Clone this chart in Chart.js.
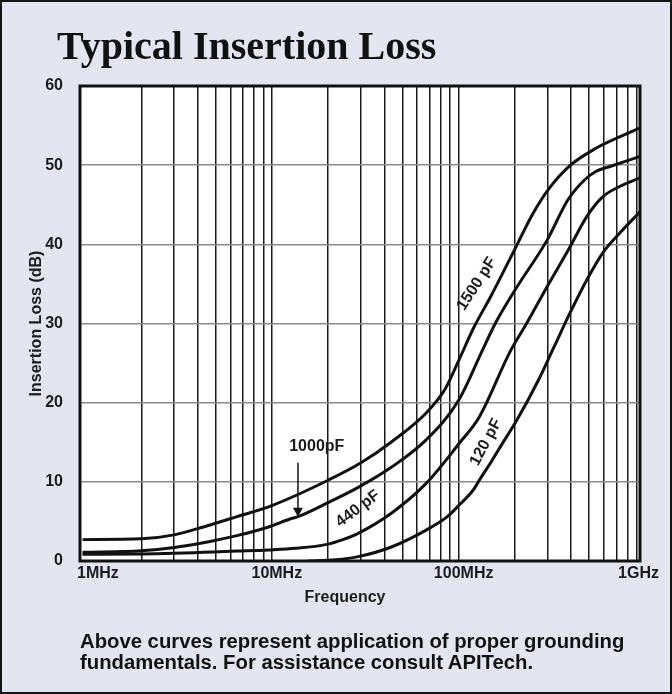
<!DOCTYPE html>
<html>
<head>
<meta charset="utf-8">
<script src="https://cdn.jsdelivr.net/npm/chart.js@4.4.1/dist/chart.umd.min.js"></script>
<style>
  html, body { margin: 0; padding: 0; background: #e3e6f1; }
  #wrap { position: relative; width: 672px; height: 694px; overflow: hidden; }
  #c { position: absolute; left: 0; top: 0; }
  #title { position: absolute; left: 57px; top: 26px; font: bold 40px/40px "Liberation Serif", "Times New Roman", serif; color: #111; white-space: nowrap; }
  #note { position: absolute; left: 80px; top: 631px; font: bold 20.3px/21px "Liberation Sans", Arial, sans-serif; color: #111; white-space: nowrap; }
</style>
</head>
<body>
<div id="wrap">
  <canvas id="c" width="672" height="694"></canvas>
  <div id="title">Typical Insertion Loss</div>
  <div id="note">Above curves represent application of proper grounding<br>fundamentals. For assistance consult APITech.</div>
</div>
<script>
// ---- data (frequency in MHz, insertion loss in dB) ----
const f1500 = [0.97, 2, 3, 4.3, 6.5, 10, 20, 30, 44, 67, 85, 100, 120, 150, 200, 250, 306, 397, 540, 700, 935];
const db1500 = [2.7, 2.8, 3.3, 4.3, 5.6, 7.0, 10.2, 12.4, 15.1, 18.7, 21.8, 25.3, 29.4, 33.6, 39.4, 43.9, 47.1, 50.0, 52.1, 53.4, 54.7];

const f1000 = [0.97, 2, 3, 4.3, 6.5, 9.6, 12.5, 13.8, 19.7, 29, 44, 67, 100, 134, 157, 200, 297, 384, 470, 542, 640, 935];
const db1000 = [1.1, 1.3, 1.7, 2.3, 3.2, 4.3, 5.3, 5.6, 7.3, 9.3, 11.9, 15.3, 20.3, 26.6, 30.0, 34.2, 40.5, 45.6, 48.1, 49.2, 49.8, 51.1];

const f440 = [0.97, 2, 3, 4.3, 6.5, 9.6, 13.4, 19.7, 24, 29, 44, 67, 101, 129, 190, 231, 300, 395, 485, 590, 727, 935];
const db440 = [0.85, 0.88, 0.97, 1.1, 1.25, 1.4, 1.6, 2.1, 2.7, 3.5, 6.1, 9.8, 14.9, 18.2, 26.6, 30.0, 34.8, 39.7, 43.5, 46.0, 47.3, 48.4];

const f120 = [15.6, 22, 29, 44, 67, 87, 101, 120, 129, 150, 170, 205, 268, 325, 394, 485, 590, 727, 935];
const db120 = [0, 0.15, 0.55, 1.8, 3.9, 5.6, 7.1, 9.0, 10.2, 12.6, 14.7, 17.8, 22.9, 27.1, 31.3, 35.5, 38.9, 41.4, 44.1];

const gridFreqs = [2,3,4,5,6,7,8,9,10,20,30,40,50,60,70,80,90,100,200,300,400,500,600,700,800,900];
const xTickValues = [1, 10, 100, 1000];
const xTickLabels = ['1MHz', '10MHz', '100MHz', '1GHz'];
const xTitle = 'Frequency';
const yTitle = 'Insertion Loss (dB)';

// curve annotations (anchored in data coordinates)
const notes = [
  { text: '1000pF', f: 17.4, db: 14.5, angle: 0 },
  { text: '440 pF', f: 28.9, db: 6.6, angle: -37 },
  { text: '1500 pF', f: 125, db: 35.0, angle: -57 },
  { text: '120 pF', f: 140, db: 15.0, angle: -62 }
];
const arrow = { f: 13.8, fromDb: 12.4, toDb: 5.6 };

// ---- chart ----
const FONT = '"Liberation Sans", Arial, Helvetica, sans-serif';
Chart.defaults.font.family = FONT;
const ink = '#1c1c1c';

const mk = (fs, ds) => fs.map((f, i) => ({ x: f, y: ds[i] }));
const line = (label, fs, ds) => ({
  label, data: mk(fs, ds), borderColor: '#111', borderWidth: 3,
  pointRadius: 0, fill: false, cubicInterpolationMode: 'monotone'
});

const decor = {
  id: 'decor',
  beforeDraw(chart) {
    const { ctx, chartArea: a, width, height } = chart;
    ctx.save();
    ctx.fillStyle = '#e3e6f1';
    ctx.fillRect(0, 0, width, height);
    ctx.fillStyle = '#ffffff';
    ctx.fillRect(a.left, a.top, a.right - a.left, a.bottom - a.top);
    ctx.restore();
  },
  afterDraw(chart) {
    const { ctx, chartArea: a, width, height, scales: { x, y } } = chart;
    ctx.save();
    ctx.strokeStyle = '#111';
    ctx.lineWidth = 3;
    ctx.strokeRect(a.left, a.top, a.right - a.left, a.bottom - a.top);
    ctx.lineWidth = 2;
    ctx.strokeStyle = '#151515';
    ctx.strokeRect(1, 1, width - 2, height - 2);

    ctx.font = 'bold 16px ' + FONT;
    ctx.fillStyle = ink;
    ctx.textBaseline = 'middle';
    xTickValues.forEach((v, i) => {
      const t = xTickLabels[i];
      const w = ctx.measureText(t).width;
      let left = x.getPixelForValue(v) - w / 2 + 5;
      left = Math.max(left, a.left - 3);
      left = Math.min(left, a.right + 19 - w);
      ctx.textAlign = 'left';
      ctx.fillText(t, left, a.bottom + 13);
    });
    ctx.textAlign = 'center';
    ctx.fillText(xTitle, (a.left + a.right) / 2 - 15, a.bottom + 37);

    notes.forEach(n => {
      ctx.save();
      ctx.translate(x.getPixelForValue(n.f), y.getPixelForValue(n.db));
      ctx.rotate(n.angle * Math.PI / 180);
      ctx.textAlign = 'center';
      ctx.textBaseline = 'middle';
      ctx.fillText(n.text, 0, 0);
      ctx.restore();
    });

    const ax = x.getPixelForValue(arrow.f);
    const y0 = y.getPixelForValue(arrow.fromDb);
    const y1 = y.getPixelForValue(arrow.toDb);
    ctx.strokeStyle = '#111';
    ctx.lineWidth = 1.5;
    ctx.beginPath();
    ctx.moveTo(ax, y0);
    ctx.lineTo(ax, y1 - 8);
    ctx.stroke();
    ctx.beginPath();
    ctx.moveTo(ax - 5, y1 - 9);
    ctx.lineTo(ax + 5, y1 - 9);
    ctx.lineTo(ax, y1);
    ctx.closePath();
    ctx.fillStyle = '#111';
    ctx.fill();
    ctx.restore();
  }
};

new Chart(document.getElementById('c'), {
  type: 'line',
  data: {
    datasets: [
      line('1500 pF', f1500, db1500),
      line('1000 pF', f1000, db1000),
      line('440 pF', f440, db440),
      line('120 pF', f120, db120)
    ]
  },
  options: {
    responsive: false,
    animation: false,
    layout: { padding: { left: 0, right: 32, top: 86, bottom: 0 } },
    plugins: { legend: { display: false }, tooltip: { enabled: false }, title: { display: false } },
    scales: {
      x: {
        type: 'logarithmic', min: 0.94, max: 935,
        afterBuildTicks: s => { s.ticks = gridFreqs.map(v => ({ value: v })); },
        afterFit: s => { s.height = 133; },
        ticks: { display: false },
        grid: { drawTicks: false, color: '#1a1a1a', lineWidth: 1.5 },
        border: { display: false }
      },
      y: {
        min: 0, max: 60,
        afterFit: s => { s.width = 80; },
        ticks: { stepSize: 10, padding: 17, color: ink, font: { size: 16, weight: 'bold' } },
        grid: {
          drawTicks: false, lineWidth: 1.5,
          color: c => (c.tick.value === 0 || c.tick.value === 60) ? 'rgba(0,0,0,0)' : '#8a8a8a'
        },
        border: { display: false },
        title: { display: true, text: yTitle, color: ink, font: { size: 16, weight: 'bold' }, padding: { top: 27, bottom: 0 } }
      }
    }
  },
  plugins: [decor]
});
</script>
</body>
</html>
